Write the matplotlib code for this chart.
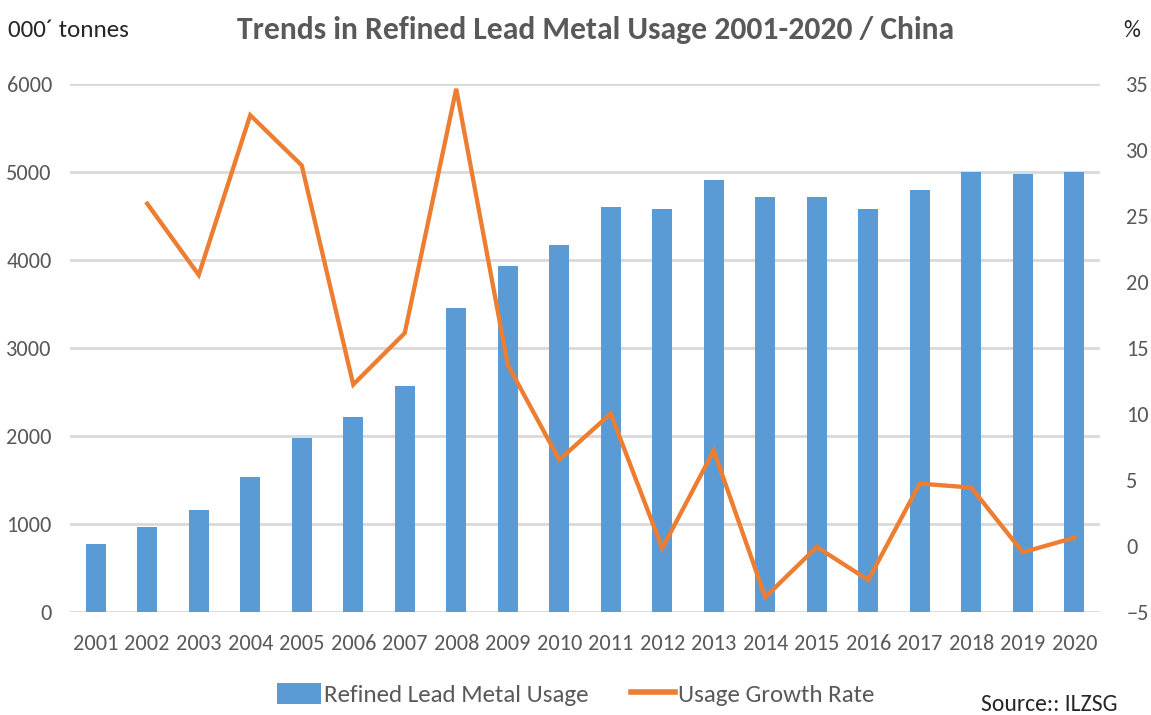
import matplotlib
matplotlib.use("Agg")
import matplotlib.pyplot as plt
from matplotlib.patches import Patch
from matplotlib.lines import Line2D

years = ["2001", "2002", "2003", "2004", "2005", "2006", "2007", "2008", "2009", "2010",
         "2011", "2012", "2013", "2014", "2015", "2016", "2017", "2018", "2019", "2020"]
usage = [770, 960, 1155, 1535, 1975, 2215, 2565, 3455, 3930, 4165,
         4595, 4575, 4905, 4715, 4715, 4575, 4790, 5000, 4970, 5000]
growth_years = years[1:]
growth = [25.9, 20.5, 32.6, 28.8, 12.2, 16.1, 34.6, 13.7, 6.5, 10.0,
          -0.2, 7.2, -3.9, -0.1, -2.6, 4.7, 4.4, -0.5, 0.6]

left_ticks = [0, 1000, 2000, 3000, 4000, 5000, 6000]
right_ticks = [-5, 0, 5, 10, 15, 20, 25, 30, 35]

BLUE = "#5B9BD5"
ORANGE = "#ED7D31"
GRID = "#D9D9D9"
TEXT = "#595959"
DARK = "#262626"
FONT = ["Carlito", "DejaVu Sans"]

plt.rcParams["font.family"] = FONT

fig = plt.figure(figsize=(11.51, 7.15), dpi=100)
ax = fig.add_axes([0.0608, 0.1445, 0.8949, 0.7387])
ax2 = ax.twinx()

x = list(range(len(years)))
ax.bar(x, usage, width=0.39, color=BLUE, zorder=2)
ax.set_ylim(0, 6000)
ax.set_xlim(-0.5, len(years) - 0.5)
ax.set_yticks(left_ticks)
ax.set_xticks(x)
ax.set_xticklabels(years)
ax.yaxis.grid(True, color=GRID, linewidth=2, zorder=0)
ax.set_axisbelow(True)

gx = [years.index(y) for y in growth_years]
ax2.plot(gx, growth, color=ORANGE, linewidth=3.1, solid_joinstyle="miter", zorder=3)
ax2.set_ylim(-5, 35)
ax2.set_yticks(right_ticks)

for a in (ax, ax2):
    for s in a.spines.values():
        s.set_visible(False)
    a.tick_params(length=0, labelsize=16, labelcolor=TEXT)
ax.tick_params(axis="y", pad=13)
ax.tick_params(axis="x", pad=16)
ax2.tick_params(axis="y", pad=19)

fig.text(0.517, 0.958, "Trends in Refined Lead Metal Usage 2001-2020 / China",
         ha="center", va="center", fontsize=22.8, fontweight="bold", color=TEXT)
fig.text(0.007, 0.958, "000\u00b4 tonnes", ha="left", va="center", fontsize=18, color=DARK)
fig.text(0.983, 0.958, "%", ha="center", va="center", fontsize=17, color=DARK)

handles = [Patch(facecolor=BLUE, edgecolor="none"),
           Line2D([0], [0], color=ORANGE, linewidth=4)]
fig.legend(handles, ["Refined Lead Metal Usage", "Usage Growth Rate"],
           loc="center", bbox_to_anchor=(0.5, 0.029), ncol=2, frameon=False,
           fontsize=18, labelcolor=TEXT, handlelength=1.75, handletextpad=0.12,
           columnspacing=1.7, handleheight=0.9)
fig.text(0.971, 0.014, "Source:: ILZSG", ha="right", va="center", fontsize=17, color=DARK)

fig.savefig("out.png", dpi=100)
